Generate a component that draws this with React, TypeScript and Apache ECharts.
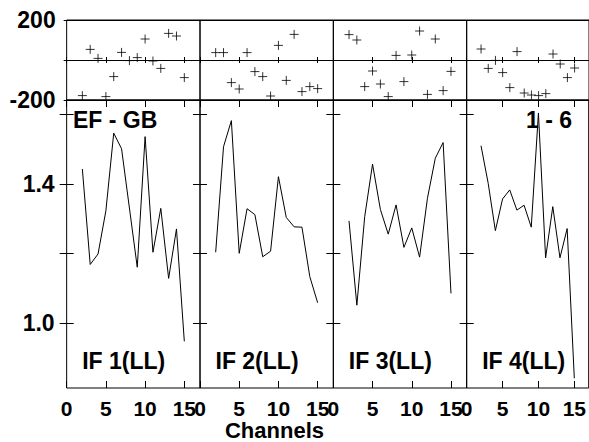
import React, { useEffect, useRef } from "react";
import * as echarts from "echarts";

// Channel numbers (x values)
const channels = [2, 3, 4, 5, 6, 7, 8, 9, 10, 11, 12, 13, 14, 15];

// Bottom panels: amplitude ratio per IF
const ratioIF1 = [1.443, 1.169, 1.199, 1.323, 1.546, 1.501, 1.331, 1.161, 1.536, 1.204, 1.330, 1.129, 1.271, 0.948];
const ratioIF2 = [1.204, 1.507, 1.582, 1.201, 1.329, 1.312, 1.191, 1.207, 1.421, 1.304, 1.277, 1.276, 1.134, 1.059];
const ratioIF3 = [1.294, 1.052, 1.306, 1.457, 1.327, 1.256, 1.340, 1.218, 1.274, 1.190, 1.359, 1.474, 1.519, 1.086];
const ratioIF4 = [1.510, 1.402, 1.266, 1.357, 1.383, 1.325, 1.339, 1.276, 1.604, 1.188, 1.335, 1.188, 1.272, 0.842];

// Top panels: phase residuals per IF (crosses)
const phaseIF1 = [-178, 53, 8, -183, -83, 38, -3, 12, 105, -5, -42, 133, 120, -88];
const phaseIF2 = [37, 37, -113, -145, 37, -58, -83, -180, 73, -102, 128, -158, -133, -143];
const phaseIF3 = [127, 100, -133, -55, -120, -183, 23, -108, 25, 145, -172, 105, -153, -57];
const phaseIF4 = [55, -42, -2, -63, -138, 42, -165, -175, -178, -168, 30, -20, -88, -40];

const ifLabels = ["IF 1(LL)", "IF 2(LL)", "IF 3(LL)", "IF 4(LL)"];
const xTickValues = [0, 5, 10, 15];
const X_MAX = 17;
const ratioTicks = [1.0, 1.2, 1.4, 1.6];
const ratioLabels = [1.0, 1.4];
const RATIO_MIN = 0.8142;
const RATIO_MAX = 1.6412;

const ratios = [ratioIF1, ratioIF2, ratioIF3, ratioIF4];
const phases = [phaseIF1, phaseIF2, phaseIF3, phaseIF4];

const FONT = "Liberation Sans, Arial, Helvetica, sans-serif";
const TICK_FONT = 21;
const LABEL_MARGIN = 10;

const PLOT_LEFT = 66.67;
const PANEL_W = 133.33;
const TOP_Y = 20;
const MID_Y = 100;
const BOTTOM_Y = 388;

export default function App() {
  const ref = useRef<HTMLDivElement>(null);

  useEffect(() => {
    if (!ref.current) return;
    const chart = echarts.init(ref.current, undefined, { renderer: "svg" });

    const grids: any[] = [];
    const xAxes: any[] = [];
    const yAxes: any[] = [];
    const series: any[] = [];
    const graphics: any[] = [];

    const labelStyle = {
      fontFamily: FONT,
      fontWeight: "bold",
      fontSize: 23,
      color: "#000",
    };

    for (let i = 0; i < 4; i++) {
      const left = PLOT_LEFT + PANEL_W * i;
      grids.push({
        left,
        top: TOP_Y,
        width: PANEL_W,
        height: MID_Y - TOP_Y,
        show: true,
        borderColor: "#000",
        borderWidth: 1,
        containLabel: false,
      });
      grids.push({
        left,
        top: MID_Y,
        width: PANEL_W,
        height: BOTTOM_Y - MID_Y,
        show: true,
        borderColor: "#000",
        borderWidth: 1,
        containLabel: false,
      });

      const baseX = {
        type: "value",
        min: 0,
        max: X_MAX,
        interval: 5,
        axisLine: { show: false },
        splitLine: { show: false },
        axisLabel: { show: false },
      };
      xAxes.push({
        ...baseX,
        gridIndex: 2 * i,
        position: "bottom",
        axisTick: { show: true, inside: true, length: 3, lineStyle: { color: "#000" }, customValues: xTickValues },
      });
      xAxes.push({
        ...baseX,
        gridIndex: 2 * i,
        position: "top",
        axisTick: { show: true, inside: true, length: 3, lineStyle: { color: "#000" }, customValues: xTickValues },
      });
      xAxes.push({
        ...baseX,
        gridIndex: 2 * i + 1,
        position: "bottom",
        axisTick: { show: true, inside: true, length: 7, lineStyle: { color: "#000" }, customValues: xTickValues },
        axisLabel: {
          show: true,
          margin: LABEL_MARGIN,
          hideOverlap: false,
          showMinLabel: true,
          showMaxLabel: true,
          interval: 0,
          // the boundary "0" of panels 2-4 is added as a text below
          customValues: i === 0 ? xTickValues : [5, 10, 15],
          ...labelStyle,
          fontSize: TICK_FONT,
        },
      });
      xAxes.push({
        ...baseX,
        gridIndex: 2 * i + 1,
        position: "top",
        axisTick: { show: true, inside: true, length: 7, lineStyle: { color: "#000" }, customValues: xTickValues },
      });

      yAxes.push({
        type: "value",
        gridIndex: 2 * i,
        position: "left",
        min: -200,
        max: 200,
        interval: 200,
        axisLine: { show: false },
        axisTick: { show: true, inside: true, length: 3, lineStyle: { color: "#000" } },
        splitLine: { show: true, lineStyle: { color: "#000", width: 1 } },
        axisLabel: {
          show: i === 0,
          margin: 11,
          formatter: (v: number) => (v === 0 ? "" : String(v)),
          ...labelStyle,
        },
      });
      yAxes.push({
        type: "value",
        gridIndex: 2 * i,
        position: "right",
        min: -200,
        max: 200,
        interval: 200,
        axisLine: { show: false },
        axisTick: { show: true, inside: true, length: 3, lineStyle: { color: "#000" } },
        splitLine: { show: false },
        axisLabel: { show: false },
      });
      yAxes.push({
        type: "value",
        gridIndex: 2 * i + 1,
        position: "left",
        min: RATIO_MIN,
        max: RATIO_MAX,
        axisLine: { show: false },
        axisTick: { show: true, inside: true, length: 7, lineStyle: { color: "#000" }, customValues: ratioTicks },
        splitLine: { show: false },
        axisLabel: {
          show: i === 0,
          margin: 12,
          customValues: ratioLabels,
          formatter: (v: number) => v.toFixed(1),
          ...labelStyle,
        },
      });
      yAxes.push({
        type: "value",
        gridIndex: 2 * i + 1,
        position: "right",
        min: RATIO_MIN,
        max: RATIO_MAX,
        axisLine: { show: false },
        axisTick: { show: true, inside: true, length: 7, lineStyle: { color: "#000" }, customValues: ratioTicks },
        splitLine: { show: false },
        axisLabel: { show: false },
      });

      series.push({
        type: "scatter",
        xAxisIndex: 4 * i,
        yAxisIndex: 4 * i,
        symbol: "path://M0,4L8,4M4,0L4,8",
        symbolSize: 9,
        itemStyle: { color: "transparent", borderColor: "#000", borderWidth: 1 },
        data: channels.map((c, j) => [c, phases[i][j]]),
        silent: true,
      });
      series.push({
        type: "line",
        xAxisIndex: 4 * i + 2,
        yAxisIndex: 4 * i + 2,
        symbol: "none",
        lineStyle: { color: "#000", width: 1 },
        data: channels.map((c, j) => [c, ratios[i][j]]),
        silent: true,
        z: 3,
      });

      graphics.push({
        type: "text",
        id: "if" + i,
        x: left + 15.5,
        y: 361,
        z: 1,
        style: {
          text: ifLabels[i],
          fontFamily: FONT,
          fontWeight: "bold",
          fontSize: 23,
          fill: "#000",
          align: "left",
          verticalAlign: "middle",
        },
      });

      if (i > 0) {
        // "0" at the shared boundary with the previous panel
        graphics.push({
          type: "text",
          id: "zero" + i,
          x: left,
          y: BOTTOM_Y + LABEL_MARGIN,
          z: 50,
          style: {
            text: "0",
            fontFamily: FONT,
            fontWeight: "bold",
            fontSize: TICK_FONT,
            fill: "#000",
            align: "center",
            verticalAlign: "top",
          },
        });
      }
    }

    graphics.push({
      type: "text",
      id: "ef",
      x: 73,
      y: 120,
      z: 1,
      style: { text: "EF - GB", fontFamily: FONT, fontWeight: "bold", fontSize: 23, fill: "#000", align: "left", verticalAlign: "middle" },
    });
    graphics.push({
      type: "text",
      id: "ch",
      x: 526,
      y: 120,
      z: 1,
      style: { text: "1 - 6", fontFamily: FONT, fontWeight: "bold", fontSize: 23, fill: "#000", align: "left", verticalAlign: "middle" },
    });
    graphics.push({
      type: "text",
      id: "channels",
      x: 274.5,
      y: 430,
      z: 1,
      style: { text: "Channels", fontFamily: FONT, fontWeight: "bold", fontSize: 22, fill: "#000", align: "center", verticalAlign: "middle" },
    });

    chart.setOption({
      animation: false,
      backgroundColor: "#fff",
      grid: grids,
      xAxis: xAxes,
      yAxis: yAxes,
      series,
      graphic: graphics,
    });

    return () => chart.dispose();
  }, []);

  return (
    <div
      ref={ref}
      style={{ position: "absolute", left: 0, top: 0, width: 589, height: 442 }}
    />
  );
}
